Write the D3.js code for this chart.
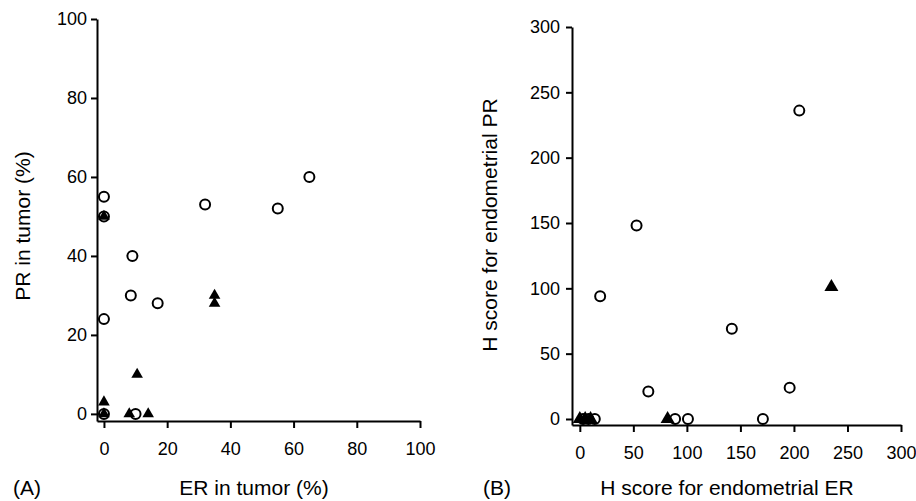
<!DOCTYPE html>
<html>
<head>
<meta charset="utf-8">
<script src="https://cdn.jsdelivr.net/npm/d3@7"></script>
<style>
  body { margin: 0; background: #fff; }
  svg text { font-family: "Liberation Sans", Arial, sans-serif; fill: #000; }
</style>
</head>
<body>
<script>
'use strict';

// Panel A: ER vs PR in tumor (%)
const aCircles = [
  [0, 55], [0, 50], [0, 24], [0, 0], [9, 40], [8.5, 30], [17, 28],
  [32, 53], [55, 52], [65, 60], [10, 0]
];
const aTriangles = [
  [0, 50], [0, 3], [0, 0], [10.5, 10], [8, 0], [14, 0], [35, 30], [35, 28]
];
const aTicks = [0, 20, 40, 60, 80, 100];

// Panel B: H scores, endometrial ER vs PR
const bCircles = [
  [205, 236], [53, 148], [19, 94], [142, 69], [64, 21], [196, 24],
  [171, 0], [101, 0], [89, 0], [14, 0], [3, 0], [8, 0]
];
const bTriangles = [
  [235, 101], [82, 0], [0, 0], [5, 0], [10, 0]
];
const bTicks = [0, 50, 100, 150, 200, 250, 300];

let width = 916;
let height = 501;

let svg = d3.select('body').append('svg')
  .attr('width', width)
  .attr('height', height);

function drawPanel(opt) {
  let x = d3.scaleLinear().domain(opt.xDomain).range(opt.xRange);
  let y = d3.scaleLinear().domain(opt.yDomain).range(opt.yRange);

  let xAxis = svg.append('g')
    .attr('transform', 'translate(0,' + opt.yRange[0] + ')')
    .call(d3.axisBottom(x).tickValues(opt.ticks).tickSize(7).tickSizeOuter(0).tickPadding(14));
  let yAxis = svg.append('g')
    .attr('transform', 'translate(' + opt.xRange[0] + ',0)')
    .call(d3.axisLeft(y).tickValues(opt.ticks).tickSize(6).tickSizeOuter(0).tickPadding(opt.yPad));

  [xAxis, yAxis].forEach(g => {
    g.selectAll('path, line').attr('stroke', '#000').attr('stroke-width', 2);
    g.selectAll('text').style('font-size', '18px').attr('fill', '#000');
  });

  svg.append('g').selectAll('circle')
    .data(opt.circles)
    .enter()
    .append('circle')
    .attr('cx', d => x(d[0]))
    .attr('cy', d => y(d[1]))
    .attr('r', 5)
    .attr('fill', 'none')
    .attr('stroke', '#000')
    .attr('stroke-width', 2);

  let tri = d3.symbol().type(d3.symbolTriangle).size(opt.triSize);
  svg.append('g').selectAll('path')
    .data(opt.triangles)
    .enter()
    .append('path')
    .attr('d', tri)
    .attr('transform', d => 'translate(' + x(d[0]) + ',' + y(d[1]) + ')')
    .attr('fill', '#000');

  svg.append('text')
    .attr('x', opt.tagX)
    .attr('y', 495)
    .style('font-size', '21px')
    .text(opt.tag);

  svg.append('text')
    .attr('x', opt.xTitleX)
    .attr('y', 495)
    .attr('text-anchor', 'middle')
    .style('font-size', '21px')
    .text(opt.xTitle);

  svg.append('text')
    .attr('transform', 'translate(' + opt.yTitleX + ',' + opt.yTitleY + ')rotate(-90)')
    .attr('text-anchor', 'middle')
    .style('font-size', '21px')
    .text(opt.yTitle);
}

drawPanel({
  xDomain: [-2.2, 100], xRange: [97, 420],
  yDomain: [-1.8, 100], yRange: [421, 19],
  ticks: aTicks, circles: aCircles, triangles: aTriangles,
  triSize: 58, yPad: 4,
  tag: '(A)', tagX: 13,
  xTitle: 'ER in tumor (%)', xTitleX: 254,
  yTitle: 'PR in tumor (%)', yTitleX: 30, yTitleY: 226
});

drawPanel({
  xDomain: [-7.3, 300], xRange: [572, 901],
  yDomain: [-4.6, 300], yRange: [425, 27],
  ticks: bTicks, circles: bCircles, triangles: bTriangles,
  triSize: 85, yPad: 6,
  tag: '(B)', tagX: 483,
  xTitle: 'H score for endometrial ER', xTitleX: 727,
  yTitle: 'H score for endometrial PR', yTitleX: 497, yTitleY: 225
});
</script>
</body>
</html>
